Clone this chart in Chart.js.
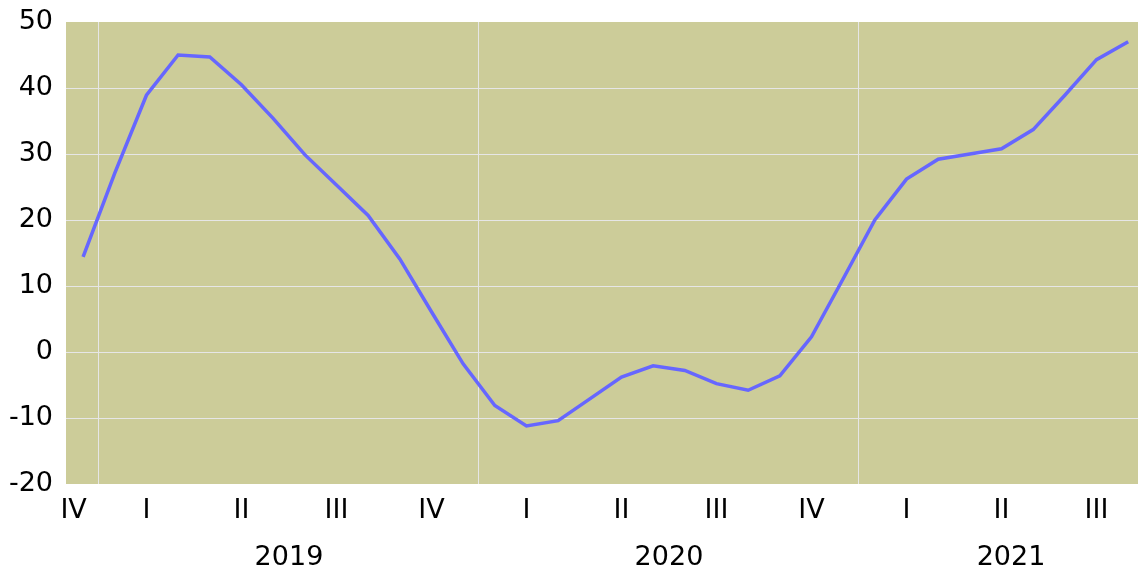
<!DOCTYPE html>
<html>
<head>
<meta charset="utf-8">
<script src="https://cdn.jsdelivr.net/npm/chart.js@4.4.1/dist/chart.umd.min.js"></script>
<style>
  body { margin: 0; background: #fff; }
  #wrap { width: 1138px; height: 574px; position: relative; }
</style>
</head>
<body>
<div id="wrap"><canvas id="chart"></canvas></div>
<script>
// monthly values, Dec 2018 .. Sep 2021 (index 0 = Dec 2018)
const values = [
  14.4, 27.1, 38.9, 45.0, 44.7, 40.5, 35.4, 29.9, 25.3, 20.7,
  14.1, 6.1, -1.8, -8.1, -11.2, -10.4, -7.1, -3.8, -2.1, -2.8,
  -4.8, -5.8, -3.6, 2.3, 11.1, 20.0, 26.2, 29.2, 30.0, 30.8,
  33.7, 38.9, 44.3, 47.0
];

// quarter labels sit on the middle month of each quarter
const quarterPos = [-0.3, 2, 5, 8, 11, 14, 17, 20, 23, 26, 29, 32];
const quarterLabels = ['IV', 'I', 'II', 'III', 'IV', 'I', 'II', 'III', 'IV', 'I', 'II', 'III'];
const yearPos = [6.5, 18.5, 29.3];
const yearLabels = ['2019', '2020', '2021'];
const yearBounds = [0.5, 12.5, 24.5];

const yTicks = [-20, -10, 0, 10, 20, 30, 40, 50];

const FONT = { family: 'DejaVu Sans', size: 27 };
const X_MIN = -0.54, X_MAX = 33.31;

const plotBg = {
  id: 'plotBg',
  beforeDraw(chart) {
    const { ctx, chartArea: a } = chart;
    ctx.save();
    ctx.fillStyle = '#CCCC99';
    ctx.fillRect(a.left, a.top, a.right - a.left, a.bottom - a.top);
    ctx.restore();
  }
};

const qTicks = quarterPos.map((v, i) => ({ value: v, label: quarterLabels[i] }))
  .concat(yearBounds.map(v => ({ value: v, label: '' })))
  .sort((a, b) => a.value - b.value);

new Chart(document.getElementById('chart'), {
  type: 'line',
  data: {
    datasets: [{
      data: values.map((v, i) => ({ x: i, y: v })),
      borderColor: '#6666FF',
      borderWidth: 3.5,
      pointRadius: 0,
      tension: 0,
      fill: false
    }]
  },
  options: {
    responsive: true,
    maintainAspectRatio: false,
    animation: false,
    layout: { padding: { top: 22, right: 0, left: 0, bottom: 0 } },
    plugins: { legend: { display: false }, tooltip: { enabled: false } },
    scales: {
      x: {
        type: 'linear',
        min: X_MIN,
        max: X_MAX,
        afterBuildTicks: s => { s.ticks = qTicks.map(t => ({ value: t.value })); },
        afterFit: s => { s.height = 46; s.paddingLeft = 0; s.paddingRight = 0; },
        ticks: {
          autoSkip: false,
          maxRotation: 0,
          padding: 11,
          color: '#000',
          font: FONT,
          callback: (v, i) => qTicks[i].label
        },
        grid: {
          drawTicks: false,
          lineWidth: 1,
          color: c => (c.tick && yearBounds.includes(c.tick.value)) ? '#E6E6E6' : 'rgba(0,0,0,0)'
        },
        border: { display: false }
      },
      year: {
        type: 'linear',
        position: 'bottom',
        min: X_MIN,
        max: X_MAX,
        afterBuildTicks: s => { s.ticks = yearPos.map(v => ({ value: v })); },
        afterFit: s => { s.height = 44; s.paddingLeft = 0; s.paddingRight = 0; },
        ticks: {
          autoSkip: false,
          maxRotation: 0,
          padding: 12,
          color: '#000',
          font: FONT,
          callback: (v, i) => yearLabels[i]
        },
        grid: { display: false, drawTicks: false },
        border: { display: false }
      },
      y: {
        min: -20,
        max: 50,
        afterBuildTicks: s => { s.ticks = yTicks.map(v => ({ value: v })); },
        afterFit: s => { s.width = 66; s.paddingTop = 0; s.paddingBottom = 0; },
        ticks: {
          padding: 13,
          color: '#000',
          font: FONT
        },
        grid: {
          drawTicks: false,
          lineWidth: 1,
          color: c => (c.tick && (c.tick.value === 50 || c.tick.value === -20)) ? 'rgba(0,0,0,0)' : '#E6E6E6'
        },
        border: { display: false }
      }
    }
  },
  plugins: [plotBg]
});
</script>
</body>
</html>
